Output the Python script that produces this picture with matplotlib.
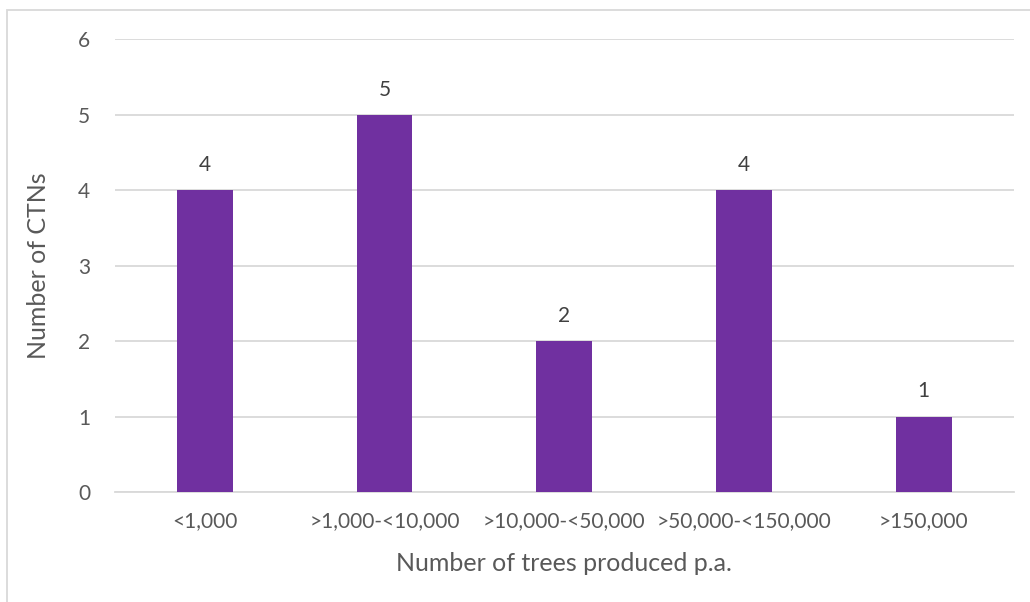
import matplotlib.pyplot as plt
from matplotlib.patches import Rectangle

categories = ['<1,000', '>1,000-<10,000', '>10,000-<50,000', '>50,000-<150,000', '>150,000']
ctn_counts = [4, 5, 2, 4, 1]

plt.rcParams['font.family'] = ['Lato', 'DejaVu Sans']
text_col = '#595959'

fig = plt.figure(figsize=(10.3, 6.02), dpi=100)
ax = fig.add_axes([0.1117, 0.1827, 0.8723, 0.7523])

bars = ax.bar(range(len(categories)), ctn_counts, width=0.31, color='#7030A0', zorder=3)
for b, v in zip(bars, ctn_counts):
    ax.text(b.get_x() + b.get_width() / 2, v + 0.2, str(v), ha='center', va='bottom',
            fontsize=15, color='#404040')

ax.set_xlim(-0.5, len(categories) - 0.5)
ax.set_ylim(0, 6)
ax.set_yticks(range(0, 7))
ax.set_xticks(range(len(categories)))
ax.set_xticklabels(categories)
ax.tick_params(axis='both', length=0, labelsize=15, colors=text_col)
ax.tick_params(axis='x', pad=14)
ax.tick_params(axis='y', pad=18)
ax.grid(axis='y', color='#D9D9D9', linewidth=1.3, zorder=0)
for s in ['top', 'right', 'left']:
    ax.spines[s].set_visible(False)
ax.spines['bottom'].set_color('#D9D9D9')
ax.spines['bottom'].set_linewidth(1.3)

ax.set_xlabel('Number of trees produced p.a.', fontsize=18, color=text_col, labelpad=15)
ax.set_ylabel('Number of CTNs', fontsize=18, color=text_col, labelpad=20)

# chart border (runs off the right and bottom edges)
fig.patches.append(Rectangle((7 / 1030, -0.05), 1.1, 1 - 10 / 602 + 0.05,
                             transform=fig.transFigure, fill=False,
                             edgecolor='#D9D9D9', linewidth=1.3))

fig.savefig('out.png', dpi=100)
